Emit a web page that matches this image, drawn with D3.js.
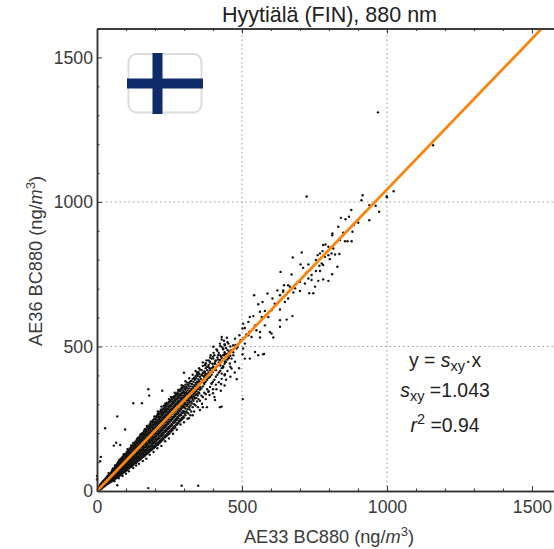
<!DOCTYPE html>
<html>
<head>
<meta charset="utf-8">
<script src="https://cdn.jsdelivr.net/npm/d3@7"></script>
<style>
  html, body { margin: 0; padding: 0; background: #fff; overflow: hidden; }
  svg { display: block; font-family: "Liberation Sans", Arial, sans-serif; }
  .tick text { font-size: 17.7px; fill: #3a3a3a; }
</style>
</head>
<body>
<div id="chart"></div>
<script>
const titleText = "Hyytiälä (FIN), 880 nm";
const majorTicks = [0, 500, 1000, 1500];
const minorTicks = [100, 200, 300, 400, 600, 700, 800, 900, 1100, 1200, 1300, 1400, 1600];
const gridValues = [500, 1000];
const slope = 1.043;
const fitX = [0, 1600];

// dense part of the cloud, one row of AE36 readings per AE33 value
const denseX = [5, 10, 15, 20, 25, 30, 35, 40, 45, 50, 55, 60, 65, 70, 75, 80, 85, 90, 95, 100,
  105, 110, 115, 120, 125, 130, 135, 140, 145, 150, 155, 160, 165, 170, 175, 180, 185, 190, 195, 200,
  205, 210, 215, 220, 225, 230, 235, 240, 245, 250, 255, 260, 265, 270, 275, 280, 285, 290, 295, 300,
  305, 310, 315, 320, 325, 330, 335, 340, 345, 350, 355, 360, 365, 370, 375, 380, 385, 390, 395, 400,
  405, 410, 415, 420, 425, 430, 435, 440, 445, 450, 455, 460];
const denseY = [
  [1, 3, 5, 7, 9, 12], [5, 8, 11, 13, 17, 21], [8, 12, 15, 18, 21, 26], [13, 17, 20, 24, 27, 33],
  [16, 21, 25, 29, 33, 38], [20, 25, 30, 34, 38, 43], [24, 29, 34, 39, 44, 50], [27, 33, 39, 44, 49, 55],
  [30, 37, 43, 49, 54, 60], [33, 40, 47, 53, 59, 66], [36, 44, 52, 58, 64, 71], [40, 48, 56, 63, 70, 78],
  [43, 52, 61, 68, 75, 84], [47, 55, 64, 72, 80, 88, 95], [50, 59, 68, 77, 85, 94, 101], [54, 63, 72, 81, 90, 98, 107],
  [58, 66, 76, 85, 94, 103, 113], [62, 70, 80, 90, 99, 108, 116], [66, 75, 85, 95, 104, 113, 122], [70, 80, 90, 100, 110, 119, 128],
  [73, 84, 94, 105, 116, 125, 134], [78, 88, 99, 110, 120, 130, 139], [82, 92, 103, 115, 125, 136, 145], [85, 96, 108, 120, 131, 141, 151],
  [90, 101, 113, 124, 136, 147, 157], [95, 105, 117, 129, 141, 153, 163], [97, 110, 122, 135, 147, 158, 170], [102, 114, 127, 140, 152, 164, 176],
  [106, 118, 132, 145, 158, 170, 182], [110, 123, 136, 150, 163, 175, 187], [115, 128, 141, 155, 168, 181, 194], [118, 132, 146, 160, 173, 187, 199],
  [122, 136, 151, 165, 179, 192, 205], [127, 141, 156, 170, 184, 197, 211], [130, 145, 160, 175, 190, 203, 217], [135, 150, 166, 180, 195, 209, 223],
  [140, 155, 170, 186, 200, 215, 229], [144, 160, 175, 191, 206, 221, 236], [148, 164, 180, 196, 212, 226, 241], [152, 168, 185, 201, 217, 232, 248],
  [157, 173, 190, 206, 222, 238, 254], [160, 178, 195, 211, 228, 243, 259, 268], [165, 182, 200, 217, 233, 249, 265], [170, 188, 205, 222, 239, 255, 270, 281],
  [175, 192, 210, 227, 244, 261, 277], [180, 198, 216, 233, 250, 266, 283, 295], [186, 204, 221, 239, 255, 272, 288], [190, 208, 226, 243, 261, 277, 293, 305],
  [195, 214, 232, 249, 267, 283, 299], [199, 218, 237, 255, 272, 289, 306], [206, 224, 243, 260, 278, 294, 311], [210, 228, 248, 266, 283, 300, 316],
  [217, 236, 254, 271, 289, 305, 322], [220, 240, 259, 277, 295, 311, 327], [229, 246, 265, 282, 300, 316, 333], [234, 252, 270, 287, 305, 322, 337],
  [240, 260, 276, 293, 310, 327, 345], [245, 263, 282, 298, 316, 332, 350], [250, 270, 288, 304, 321, 338, 355], [254, 275, 291, 309, 326, 342, 361],
  [262, 285, 305, 330, 350, 368], [272, 294, 312, 336, 356, 375], [268, 300, 318, 340, 364], [282, 306, 325, 345, 372],
  [275, 310, 333, 352, 381], [290, 318, 338, 360, 388], [300, 325, 345, 366, 392], [296, 332, 352, 374, 398],
  [310, 335, 358, 378, 405], [318, 342, 365, 386, 412], [312, 350, 372, 395, 420], [330, 355, 378, 402],
  [325, 362, 384, 408, 433], [340, 370, 392, 414], [335, 378, 398, 425, 442], [352, 385, 405, 430],
  [345, 392, 410, 436, 452], [360, 395, 418, 444], [372, 402, 425, 458], [352, 378, 412, 430, 465],
  [385, 420, 440, 470], [368, 395, 428, 452], [402, 435, 462, 485], [376, 410, 445, 478],
  [415, 452, 470], [388, 425, 460, 498], [432, 470, 490], [400, 440, 480, 508],
  [447, 472, 495], [415, 455, 488, 515], [460, 482], [430, 468, 500]
];

// second pass over the same stretch, readings that fall between the rows above
const fillX = [7.5, 12.5, 17.5, 22.5, 27.5, 32.5, 37.5, 42.5, 47.5, 52.5, 57.5, 62.5, 67.5, 72.5, 77.5, 82.5, 87.5, 92.5, 97.5,
  102.5, 107.5, 112.5, 117.5, 122.5, 127.5, 132.5, 137.5, 142.5, 147.5, 152.5, 157.5, 162.5, 167.5, 172.5, 177.5, 182.5, 187.5, 192.5, 197.5,
  202.5, 207.5, 212.5, 217.5, 222.5, 227.5, 232.5, 237.5, 242.5, 247.5, 252.5, 257.5, 262.5, 267.5, 272.5, 277.5, 282.5, 287.5, 292.5, 297.5,
  302.5, 307.5, 312.5, 317.5, 322.5, 327.5, 332.5, 337.5, 342.5, 347.5, 352.5];
const fillY = [
  [4, 6, 10, 14], [7, 11, 15, 18, 23], [11, 15, 19, 23, 29], [16, 20, 24, 30, 35], [19, 24, 29, 34, 40], [23, 28, 33, 38, 46],
  [27, 33, 38, 44, 52], [30, 36, 43, 49, 57], [34, 41, 48, 54, 63], [37, 45, 52, 59, 67, 73], [41, 49, 57, 63, 70, 77], [45, 54, 61, 68, 76, 84],
  [48, 58, 65, 73, 81, 90], [52, 61, 69, 78, 86, 93, 100], [56, 65, 74, 83, 91, 99, 106], [60, 69, 78, 87, 95, 105, 112], [63, 73, 82, 92, 100, 109, 118],
  [67, 77, 86, 97, 105, 113, 123], [72, 81, 92, 101, 110, 120, 128], [76, 87, 96, 107, 116, 125, 135], [80, 90, 101, 112, 121, 132, 141], [84, 94, 106, 116, 127, 136, 147],
  [88, 99, 110, 122, 131, 143, 152], [92, 103, 115, 126, 138, 147, 158], [96, 108, 119, 131, 143, 154, 165], [100, 112, 125, 137, 148, 160, 171], [104, 117, 129, 141, 154, 166, 178],
  [108, 120, 134, 146, 159, 172, 184], [113, 126, 139, 152, 165, 177, 190], [116, 130, 143, 156, 171, 183, 197], [122, 134, 149, 162, 175, 189, 202], [126, 140, 153, 168, 181, 195, 208],
  [130, 144, 159, 173, 186, 200, 214], [134, 150, 164, 178, 193, 206, 220], [139, 153, 170, 184, 198, 212, 226], [143, 158, 174, 189, 203, 218, 232], [148, 164, 179, 194, 209, 224, 239],
  [153, 169, 184, 200, 215, 230, 245], [156, 173, 189, 205, 220, 236, 250], [161, 178, 194, 209, 226, 241, 257], [165, 182, 199, 215, 232, 247, 262], [169, 187, 204, 220, 236, 253, 268],
  [174, 192, 209, 225, 242, 258, 274], [179, 197, 214, 231, 248, 264, 279], [184, 202, 220, 237, 254, 270, 286], [190, 208, 225, 242, 259, 276, 292], [193, 212, 230, 247, 264, 281, 297],
  [199, 217, 235, 252, 270, 286, 302], [204, 222, 241, 258, 275, 292, 309], [208, 227, 246, 263, 281, 297, 314], [214, 232, 251, 269, 286, 303, 319], [219, 238, 256, 274, 292, 308, 325],
  [224, 244, 262, 280, 297, 314, 330], [230, 249, 267, 285, 303, 319, 336], [235, 255, 273, 291, 308, 325, 341], [242, 261, 279, 297, 313, 331, 347], [248, 266, 285, 302, 319, 336, 352],
  [253, 272, 290, 307, 324, 341, 358], [258, 277, 296, 313, 330, 347, 363], [268, 290, 300, 318, 336, 354], [275, 298, 315, 342, 360], [283, 305, 322, 348, 368],
  [290, 312, 330, 355, 375], [296, 320, 340, 362, 380], [303, 325, 347, 370], [312, 332, 354, 378], [320, 340, 362, 385], [322, 345, 368, 390], [330, 352, 375, 398], [338, 358, 380, 405]
];

// points along the rough edges of the band and in its thinner upper end
const edgePoints = [
  [40, 62], [55, 78], [62, 88], [78, 108], [92, 127], [105, 145], [118, 158], [125, 166], [140, 183], [150, 196],
  [165, 214], [172, 225], [185, 240], [198, 258], [210, 275], [222, 292], [235, 302], [248, 318], [255, 325], [268, 340],
  [280, 350], [292, 366], [305, 380], [318, 390], [330, 402], [340, 415], [352, 425], [365, 445], [378, 452], [390, 462],
  [402, 478], [412, 490], [425, 502], [438, 520], [448, 530], [392, 470], [375, 440], [345, 410],
  [60, 34], [75, 44], [88, 52], [100, 60], [110, 68], [125, 80], [135, 88], [145, 94], [158, 104], [170, 112],
  [182, 125], [195, 135], [208, 148], [222, 156], [235, 172], [248, 182], [262, 198], [275, 212], [288, 230], [300, 238],
  [312, 250], [322, 262], [335, 275], [348, 290], [362, 302], [375, 318], [388, 332], [400, 338], [412, 352], [428, 370],
  [445, 385], [460, 395], [475, 410], [490, 425], [330, 262], [365, 290], [405, 325], [440, 365],
  [358, 388], [362, 400], [368, 398], [373, 405], [380, 418], [388, 425], [398, 440], [408, 448], [418, 455], [428, 465],
  [438, 470], [450, 475], [460, 485], [470, 490], [478, 505], [488, 510], [495, 522], [505, 528], [515, 542], [525, 550],
  [355, 360], [368, 375], [382, 392], [395, 410], [410, 418], [425, 435], [440, 455], [455, 470], [470, 480], [485, 498]
];

// scattered points read one by one, AE33 then AE36
const sparsePoints = [
  [969, 1310], [1159, 1196], [1023, 1037], [1000, 1016], [723, 1019], [916, 1023], [912, 1006], [999, 1020], [877, 972], [939, 989],
  [961, 987], [973, 966], [939, 937], [841, 945], [857, 940], [869, 949], [901, 928], [886, 920], [881, 897], [832, 914],
  [812, 891], [811, 885], [849, 894], [838, 868], [855, 864], [864, 864], [878, 864], [780, 851], [788, 853], [798, 845],
  [815, 839], [809, 822], [821, 818], [836, 820], [706, 825], [675, 808], [761, 816], [769, 822], [778, 830], [755, 799],
  [786, 810], [798, 816], [803, 802], [775, 787], [767, 779], [780, 782], [729, 784], [702, 784], [711, 772], [734, 764],
  [723, 756], [740, 747], [829, 776], [811, 750], [755, 761], [769, 761], [671, 749], [633, 758], [763, 727], [780, 732],
  [798, 727], [729, 735], [740, 730], [700, 724], [717, 718], [752, 707], [665, 707], [645, 712], [683, 701], [700, 692],
  [732, 684], [746, 684], [660, 689], [677, 687], [642, 689], [542, 677], [571, 654], [556, 646], [588, 683], [605, 666],
  [622, 694], [642, 694], [659, 712], [631, 677], [659, 666], [648, 654], [613, 648], [602, 625], [631, 628], [579, 623],
  [562, 620], [527, 602], [539, 605], [568, 602], [591, 602], [631, 591], [674, 605], [654, 593], [504, 579], [522, 585],
  [545, 573], [579, 573], [631, 568], [502, 562], [510, 564], [550, 556], [562, 550], [596, 550], [608, 531], [602, 545],
  [562, 531], [476, 527], [491, 539], [522, 539], [533, 533], [430, 533], [430, 524], [493, 516], [510, 510], [470, 504],
  [424, 510], [441, 504], [453, 510], [401, 499], [435, 493], [464, 487], [481, 493], [504, 493], [545, 481], [573, 473],
  [556, 470], [510, 458], [527, 458], [502, 473], [418, 470], [441, 476], [453, 462], [464, 458], [470, 470], [424, 453],
  [401, 458], [389, 447], [407, 441], [441, 447], [458, 441], [476, 447], [372, 435], [384, 430], [401, 430], [424, 435],
  [435, 427], [361, 418], [372, 412], [430, 406], [441, 404], [464, 424], [482, 387], [503, 318], [576, 474], [424, 290],
  [379, 290], [355, 280], [317, 252], [300, 409], [225, 347], [177, 352], [180, 330], [125, 304], [155, 304], [70, 258],
  [28, 217], [97, 213], [66, 167], [58, 157], [80, 159], [13, 118], [11, 103], [0, 52], [0, 40], [177, 10],
  [292, 18], [349, 18], [70, 20], [427, 347], [407, 315], [430, 292], [384, 343], [395, 372]
];

const allPoints = sparsePoints.concat(edgePoints);
denseX.forEach((x, i) => denseY[i].forEach(y => allPoints.push([x, y])));
fillX.forEach((x, i) => fillY[i].forEach(y => allPoints.push([x, y])));

const width = 554, height = 549;
const margin = { top: 28.5, right: 0, bottom: 58, left: 97 };

const svg = d3.select("#chart").append("svg")
  .attr("width", width)
  .attr("height", height);

const x = d3.scaleLinear().domain([0, 1576]).range([margin.left, width]);
const y = d3.scaleLinear().domain([0, 1600]).range([height - margin.bottom, margin.top]);

svg.append("defs").append("clipPath").attr("id", "plot")
  .append("rect")
  .attr("x", margin.left - 2).attr("y", margin.top)
  .attr("width", width - margin.left + 2)
  .attr("height", height - margin.bottom - margin.top);

// dotted grid
svg.selectAll("line.gridx").data(gridValues).enter().append("line")
  .attr("x1", d => x(d)).attr("x2", d => x(d))
  .attr("y1", y(0)).attr("y2", margin.top)
  .attr("stroke", "#999").attr("stroke-dasharray", "1.5,3");
svg.selectAll("line.gridy").data(gridValues).enter().append("line")
  .attr("x1", margin.left).attr("x2", width)
  .attr("y1", d => y(d)).attr("y2", d => y(d))
  .attr("stroke", "#999").attr("stroke-dasharray", "1.5,3");

// points
svg.append("g").attr("clip-path", "url(#plot)")
  .selectAll("circle").data(allPoints).enter().append("circle")
  .attr("cx", d => x(d[0]))
  .attr("cy", d => y(d[1]))
  .attr("r", 1.2)
  .attr("fill", "#111");

// fit line
const line = d3.line().x(d => x(d)).y(d => y(slope * d));
svg.append("path").datum(fitX)
  .attr("clip-path", "url(#plot)")
  .attr("d", line)
  .attr("fill", "none")
  .attr("stroke", "#f98510")
  .attr("stroke-width", 2.8);

// axes, ticks point inward
function styleAxis(g) {
  g.select(".domain").attr("stroke", "#333").attr("stroke-width", 1.5);
  g.selectAll(".tick line").attr("stroke", "#333").attr("stroke-width", 1);
}
const fmt = d3.format("d");

svg.append("g").attr("transform", `translate(0,${y(0)})`)
  .call(d3.axisBottom(x).tickValues(minorTicks).tickSize(-2.5).tickFormat("").tickSizeOuter(0)).call(styleAxis);
svg.append("g").attr("transform", `translate(0,${y(0)})`)
  .call(d3.axisBottom(x).tickValues(majorTicks).tickSize(-5).tickFormat(fmt).tickSizeOuter(0).tickPadding(9)).call(styleAxis);
svg.append("g").attr("transform", `translate(0,${margin.top})`)
  .call(d3.axisTop(x).tickValues(minorTicks).tickSize(-2.5).tickFormat("").tickSizeOuter(0)).call(styleAxis);
svg.append("g").attr("transform", `translate(0,${margin.top})`)
  .call(d3.axisTop(x).tickValues(majorTicks).tickSize(-5).tickFormat("").tickSizeOuter(0)).call(styleAxis);
svg.append("g").attr("transform", `translate(${margin.left},0)`)
  .call(d3.axisLeft(y).tickValues(minorTicks).tickSize(-2.5).tickFormat("").tickSizeOuter(0)).call(styleAxis);
svg.append("g").attr("transform", `translate(${margin.left},0)`)
  .call(d3.axisLeft(y).tickValues(majorTicks).tickSize(-5).tickFormat(fmt).tickSizeOuter(0).tickPadding(4)).call(styleAxis);

// title and axis labels
svg.append("text")
  .attr("x", 329.5).attr("y", 22)
  .attr("text-anchor", "middle")
  .attr("font-size", "21.5px")
  .attr("fill", "#222")
  .text(titleText);

function unitLabel(sel) {
  sel.append("tspan").text(sel.attr("data-name") + " (ng/");
  sel.append("tspan").attr("font-style", "italic").text("m");
  sel.append("tspan").attr("dy", -7).attr("font-size", "13px").text("3");
  sel.append("tspan").attr("dy", 7).text(")");
}
svg.append("text")
  .attr("data-name", "AE33 BC880")
  .attr("x", 329).attr("y", 543)
  .attr("text-anchor", "middle")
  .attr("font-size", "18.2px")
  .attr("fill", "#3a3a3a")
  .call(unitLabel);
svg.append("text")
  .attr("data-name", "AE36 BC880")
  .attr("transform", "translate(42,261) rotate(-90)")
  .attr("text-anchor", "middle")
  .attr("font-size", "18.2px")
  .attr("fill", "#3a3a3a")
  .call(unitLabel);

// fit annotation
const note = svg.append("g").attr("font-size", "19.4px").attr("fill", "#222").attr("text-anchor", "middle");
const n1 = note.append("text").attr("x", 445).attr("y", 367);
n1.append("tspan").text("y = ");
n1.append("tspan").attr("font-style", "italic").text("s");
n1.append("tspan").attr("dy", 4).attr("font-size", "14.5px").text("xy");
n1.append("tspan").attr("dy", -4).text("·x");
const n2 = note.append("text").attr("x", 445).attr("y", 397);
n2.append("tspan").attr("font-style", "italic").text("s");
n2.append("tspan").attr("dy", 4).attr("font-size", "14.5px").text("xy");
n2.append("tspan").attr("dy", -4).text(" =1.043");
const n3 = note.append("text").attr("x", 445).attr("y", 432);
n3.append("tspan").attr("font-style", "italic").text("r");
n3.append("tspan").attr("dy", -8).attr("font-size", "14.5px").text("2");
n3.append("tspan").attr("dy", 8).text(" =0.94");

// flag
const flag = svg.append("g");
flag.append("rect")
  .attr("x", 128.5).attr("y", 54).attr("width", 73).attr("height", 58.5).attr("rx", 8)
  .attr("fill", "#fff").attr("stroke", "#dcdcdc").attr("stroke-width", 2);
flag.append("rect").attr("x", 152.5).attr("y", 53).attr("width", 10).attr("height", 61).attr("fill", "#0f2b69");
flag.append("rect").attr("x", 127).attr("y", 78.5).attr("width", 76).attr("height", 10).attr("fill", "#0f2b69");
</script>
</body>
</html>
